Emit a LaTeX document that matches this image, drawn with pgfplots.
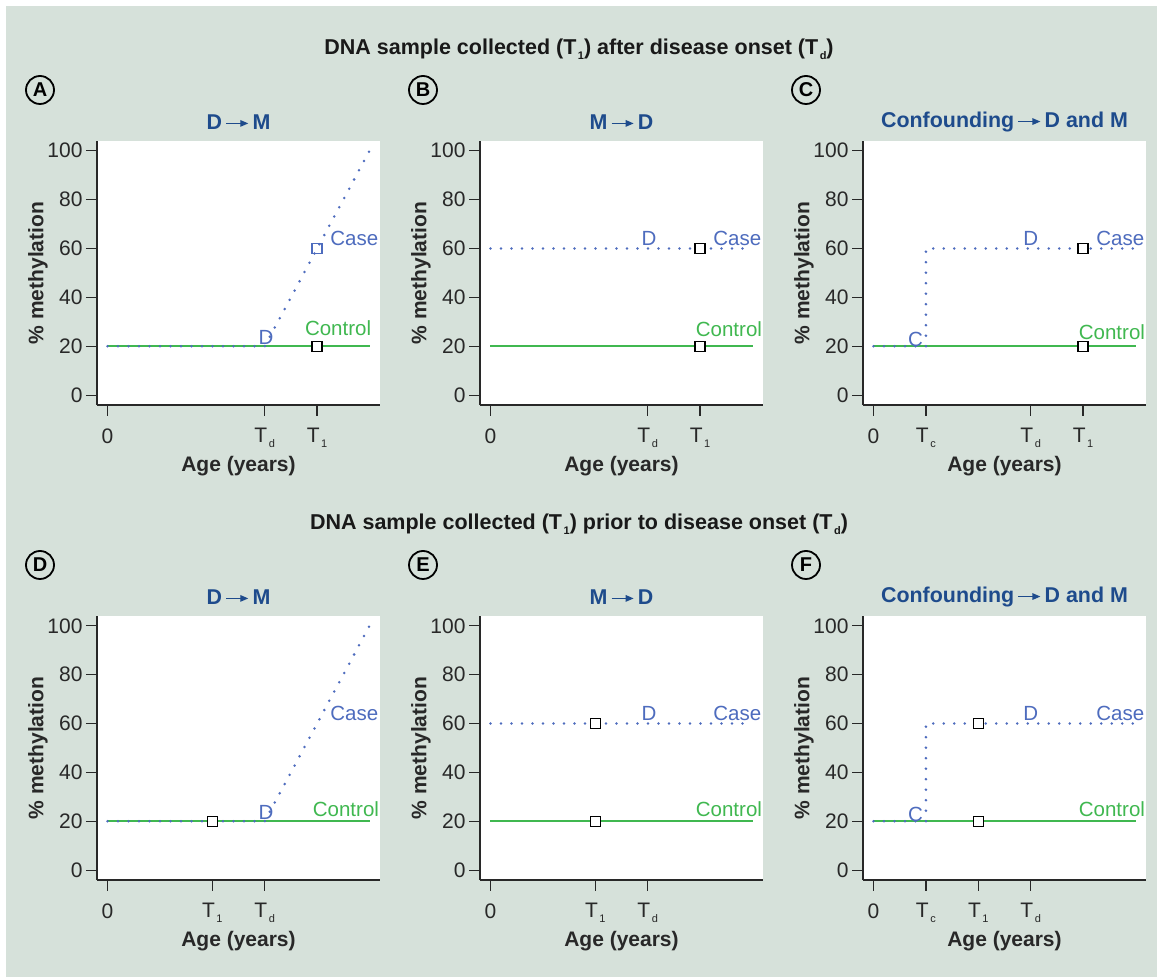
\documentclass[border=0pt]{standalone}
\usepackage{fontspec}
\setmainfont{Liberation Sans}
\usepackage{pgfplots}
\pgfplotsset{compat=1.18}
\usetikzlibrary{arrows.meta}
\definecolor{bg}{RGB}{214,225,218}
\definecolor{caseblue}{RGB}{78,108,190}
\definecolor{ctrlgreen}{RGB}{64,184,80}
\definecolor{navy}{RGB}{30,75,140}
\definecolor{axisgray}{RGB}{40,40,40}
\newcommand{\arr}{\tikz[baseline=-6pt]\draw[navy,line width=1.3pt,-{Triangle[length=8pt,width=6.5pt]}] (0,0)--(22pt,0);}
\newcommand{\sub}[1]{\kern1.5pt\raisebox{-5pt}{\fontsize{11}{12}\selectfont #1}}
\pgfplotsset{panel/.style={
  scale only axis, width=283pt, height=264pt,
  anchor=south west,
  xmin=-0.4, xmax=10.4, ymin=-4, ymax=104,
  axis x line*=bottom, axis y line*=left,
  axis line style={axisgray, line width=1.6pt},
  axis background/.style={fill=white},
  tick align=outside, major tick length=11pt,
  every tick/.style={axisgray, line width=1.3pt},
  ytick={0,20,40,60,80,100},
  /pgf/number format/assume math mode=true,
  tick label style={font=\fontsize{21}{23}\selectfont, text=axisgray},
  xticklabel style={yshift=-9pt},
  xlabel={Age (years)}, ylabel={\% methylation},
  label style={font=\bfseries\fontsize{21}{23}\selectfont, text=axisgray},
  xlabel style={at={(axis description cs:0.5,-0.231)}, anchor=center},
  ylabel style={at={(axis description cs:-0.2085,0.5)}, anchor=center},
  title style={at={(axis description cs:0.5,1.049)}, anchor=center, font=\bfseries\fontsize{21.4}{23}\selectfont, text=navy},
  clip=false,
},
ctrl/.style={ctrlgreen, line width=2pt},
case/.style={caseblue, line width=2.8pt, line cap=round, dash pattern=on 0pt off 10.5pt},
sq/.style={only marks, mark=square*, mark size=5pt, draw=black, fill=white, mark options={line width=1.5pt, draw=black, fill=white}},
}
\tikzset{circ/.style={circle, draw=black, line width=1.8pt, inner sep=0pt, minimum size=28pt, font=\bfseries\fontsize{20}{22}\selectfont},
mtitle/.style={font=\bfseries\fontsize{21.5}{23}\selectfont, text=black!90},
lab/.style={text=caseblue, font=\fontsize{20.5}{22}\selectfont, inner sep=0pt},
glab/.style={text=ctrlgreen, font=\fontsize{20.5}{22}\selectfont, inner sep=0pt}}
\begin{document}
\begin{tikzpicture}
\fill[white] (0pt,0pt) rectangle (1157pt,977pt);
\fill[bg] (6pt,0pt) rectangle (1157pt,971pt);
\node[mtitle] at (579pt,928pt) {DNA sample collected (T\sub{1}) after disease onset (T\sub{d})};
\node[mtitle] at (579pt,453pt) {DNA sample collected (T\sub{1}) prior to disease onset (T\sub{d})};
\node[circ] at (40pt,887pt) {A};
\node[circ] at (423pt,887pt) {B};
\node[circ] at (806pt,887pt) {C};
\node[circ] at (40pt,412pt) {D};
\node[circ] at (423pt,412pt) {E};
\node[circ] at (806pt,412pt) {F};
% A
\begin{axis}[panel, at={(97pt,572pt)}, title={D\,\arr\,M}, xtick={0,6,8}, xticklabels={0,T\sub{d},T\sub{1}}]
\addplot[ctrl] coordinates {(0,20) (10,20)};
\addplot[case] coordinates {(0,20) (6,20) (10,100)};
\addplot[only marks, mark=square, mark size=5pt, caseblue, mark options={line width=1.3pt}] coordinates {(8,60)};
\addplot[sq] coordinates {(8,20)};
\node[lab] at (axis cs:6.05,23.5) {D};
\node[lab, anchor=west] at (axis cs:8.5,64) {Case};
\node[glab] at (axis cs:8.8,27.5) {Control};
\end{axis}
% B
\begin{axis}[panel, at={(480pt,572pt)}, title={M\,\arr\,D}, xtick={0,6,8}, xticklabels={0,T\sub{d},T\sub{1}}]
\addplot[ctrl] coordinates {(0,20) (10,20)};
\addplot[case] coordinates {(0,60) (10,60)};
\addplot[sq] coordinates {(8,60) (8,20)};
\node[lab] at (axis cs:6.05,64) {D};
\node[lab, anchor=west] at (axis cs:8.5,64) {Case};
\node[glab] at (axis cs:9.1,27) {Control};
\end{axis}
% C
\begin{axis}[panel, at={(863pt,572pt)}, title={Confounding\,\arr\,D and M}, xtick={0,2,6,8}, xticklabels={0,T\sub{c},T\sub{d},T\sub{1}}]
\addplot[ctrl] coordinates {(0,20) (10,20)};
\addplot[case] coordinates {(0,20) (2,20) (2,60) (10,60)};
\addplot[sq] coordinates {(8,60) (8,20)};
\node[lab] at (axis cs:1.6,23) {C};
\node[lab] at (axis cs:6.0,64) {D};
\node[lab, anchor=west] at (axis cs:8.5,64) {Case};
\node[glab] at (axis cs:9.1,25.7) {Control};
\end{axis}
% D
\begin{axis}[panel, at={(97pt,97pt)}, title={D\,\arr\,M}, xtick={0,4,6}, xticklabels={0,T\sub{1},T\sub{d}}]
\addplot[ctrl] coordinates {(0,20) (10,20)};
\addplot[case] coordinates {(0,20) (6,20) (10,100)};
\addplot[sq] coordinates {(4,20)};
\node[lab] at (axis cs:6.05,23.5) {D};
\node[lab, anchor=west] at (axis cs:8.5,64) {Case};
\node[glab] at (axis cs:9.1,25) {Control};
\end{axis}
% E
\begin{axis}[panel, at={(480pt,97pt)}, title={M\,\arr\,D}, xtick={0,4,6}, xticklabels={0,T\sub{1},T\sub{d}}]
\addplot[ctrl] coordinates {(0,20) (10,20)};
\addplot[case] coordinates {(0,60) (10,60)};
\addplot[sq] coordinates {(4,60) (4,20)};
\node[lab] at (axis cs:6.05,64) {D};
\node[lab, anchor=west] at (axis cs:8.5,64) {Case};
\node[glab] at (axis cs:9.1,25) {Control};
\end{axis}
% F
\begin{axis}[panel, at={(863pt,97pt)}, title={Confounding\,\arr\,D and M}, xtick={0,2,4,6}, xticklabels={0,T\sub{c},T\sub{1},T\sub{d}}]
\addplot[ctrl] coordinates {(0,20) (10,20)};
\addplot[case] coordinates {(0,20) (2,20) (2,60) (10,60)};
\addplot[sq] coordinates {(4,60) (4,20)};
\node[lab] at (axis cs:1.6,23) {C};
\node[lab] at (axis cs:6.0,64) {D};
\node[lab, anchor=west] at (axis cs:8.5,64) {Case};
\node[glab] at (axis cs:9.1,25) {Control};
\end{axis}
\end{tikzpicture}
\end{document}
